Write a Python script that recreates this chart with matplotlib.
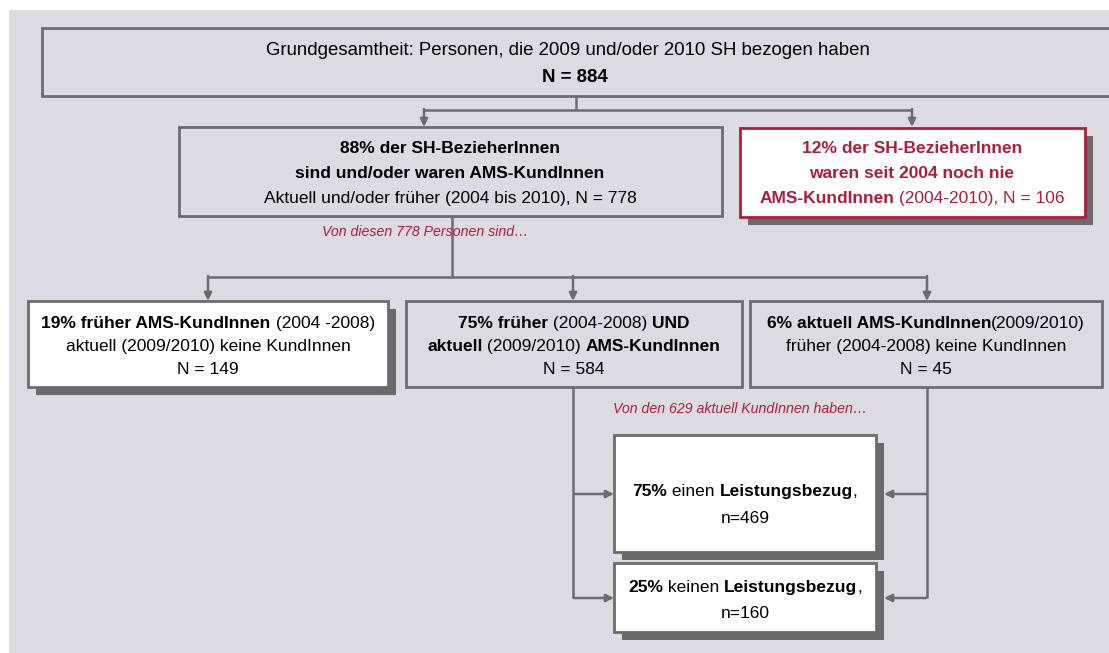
import matplotlib
matplotlib.use("Agg")
import matplotlib.pyplot as plt
from matplotlib.patches import Rectangle

# --- data -------------------------------------------------------------
total_n = 884
ams_share = [88, 12]          # ever AMS client / never AMS client
ams_n = [778, 106]
history_share = [19, 75, 6]   # only earlier / earlier AND now / only now
history_n = [149, 584, 45]
current_n = 629
benefit_share = [75, 25]      # with / without benefit
benefit_n = [469, 160]

# --- style ------------------------------------------------------------
W, H = 1109, 653
BG = "#dcdbe1"
LINE = "#6c6c70"
RED = "#b01c3c"
SHADOW = "#6a6a6a"
FONT = ["Liberation Sans", "DejaVu Sans"]
FS = 12.5

fig = plt.figure(figsize=(W / 100, H / 100), dpi=100)
fig.patch.set_facecolor("white")
ax = fig.add_axes([0, 0, 1, 1])
ax.set_xlim(0, W)
ax.set_ylim(H, 0)
ax.axis("off")
renderer = fig.canvas.get_renderer()

ax.add_patch(Rectangle((9, 10), W, H, facecolor=BG, edgecolor="none", zorder=0))


def box(x0, y0, x1, y1, face=BG, edge=LINE, shadow=False):
    if shadow:
        ax.add_patch(Rectangle((x0 + 8, y0 + 8), x1 - x0, y1 - y0,
                               facecolor=SHADOW, edgecolor="none", zorder=1))
    ax.add_patch(Rectangle((x0, y0), x1 - x0, y1 - y0, facecolor=face,
                           edgecolor=edge, linewidth=2.0, zorder=2))


def width(s, weight, style, fs):
    t = ax.text(0, 0, "|" + s + "|", fontsize=fs, family=FONT, weight=weight, style=style)
    t2 = ax.text(0, 0, "||", fontsize=fs, family=FONT, weight=weight, style=style)
    w = t.get_window_extent(renderer).width - t2.get_window_extent(renderer).width
    t.remove()
    t2.remove()
    return w


def rich(xc, y, segs, color="black", style="normal", fs=FS):
    # segs: list of (text, bold); y is the visual centre of the line
    ws = [width(s, "bold" if b else "normal", style, fs) for s, b in segs]
    x = xc - sum(ws) / 2
    base = y + fs * 100 / 72 * 0.36
    for (s, b), w in zip(segs, ws):
        ax.text(x, base, s, fontsize=fs, family=FONT, weight="bold" if b else "normal",
                style=style, color=color, ha="left", va="baseline", zorder=5)
        x += w


def line(xs, ys):
    ax.plot(xs, ys, color=LINE, lw=1.8, solid_capstyle="butt", zorder=3)


def arrow(x0, y0, x1, y1):
    ax.annotate("", xy=(x1, y1), xytext=(x0, y0), zorder=4,
                arrowprops=dict(arrowstyle="-|>,head_length=0.45,head_width=0.22",
                                color=LINE, lw=1.8, shrinkA=0, shrinkB=0))


# --- top box ----------------------------------------------------------
box(42, 28, 1130, 96)
rich(568, 48, [("Grundgesamtheit: Personen, die 2009 und/oder 2010 SH bezogen haben", False)], fs=13.4)
rich(575, 75, [(f"N = {total_n}", True)], fs=13.4)

line([576, 576], [96, 110])
line([424, 912], [110, 110])
arrow(424, 109, 424, 127)
arrow(912, 109, 912, 127)

# --- second level -----------------------------------------------------
box(179, 127, 722, 216)
rich(450, 147, [(f"{ams_share[0]}% der SH-BezieherInnen", True)])
rich(450, 172, [("sind und/oder waren AMS-KundInnen", True)])
rich(450, 197, [(f"Aktuell und/oder früher (2004 bis 2010), N = {ams_n[0]}", False)])

box(740, 128, 1085, 217, face="white", edge=RED, shadow=True)
rich(912, 147, [(f"{ams_share[1]}% der SH-BezieherInnen", True)], color=RED)
rich(912, 172, [("waren seit 2004 noch nie", True)], color=RED)
rich(912, 197, [("AMS-KundInnen", True), (f" (2004-2010), N = {ams_n[1]}", False)], color=RED)

rich(425, 231, [(f"Von diesen {ams_n[0]} Personen sind…", False)], color=RED, style="italic", fs=10.2)

line([452, 452], [216, 277])
line([208, 927], [277, 277])
arrow(208, 276, 208, 301)
arrow(573, 276, 573, 301)
arrow(927, 276, 927, 301)

# --- third level ------------------------------------------------------
box(28, 301, 388, 387, face="white", shadow=True)
rich(208, 322, [(f"{history_share[0]}% früher AMS-KundInnen", True), (" (2004 -2008)", False)])
rich(208, 345, [("aktuell (2009/2010) keine KundInnen", False)])
rich(208, 368, [(f"N = {history_n[0]}", False)])

box(406, 301, 742, 387)
rich(574, 322, [(f"{history_share[1]}% früher", True), (" (2004-2008) ", False), ("UND", True)])
rich(574, 345, [("aktuell", True), (" (2009/2010) ", False), ("AMS-KundInnen", True)])
rich(574, 368, [(f"N = {history_n[1]}", False)])

box(750, 301, 1102, 387)
rich(926, 322, [(f"{history_share[2]}% aktuell AMS-KundInnen", True), ("(2009/2010)", False)])
rich(926, 345, [("früher (2004-2008) keine KundInnen", False)])
rich(926, 368, [(f"N = {history_n[2]}", False)])

rich(740, 408, [(f"Von den {current_n} aktuell KundInnen haben…", False)], color=RED, style="italic", fs=10.2)

# --- benefit boxes ----------------------------------------------------
line([573, 573], [387, 598])
line([927, 927], [387, 598])
for yy in (494, 598):
    arrow(574, yy, 614, yy)
    arrow(926, yy, 884, yy)

box(614, 435, 876, 552, face="white", shadow=True)
rich(745, 490, [(f"{benefit_share[0]}%", True), (" einen ", False), ("Leistungsbezug", True), (",", False)])
rich(745, 517, [(f"n={benefit_n[0]}", False)])

box(614, 563, 876, 632, face="white", shadow=True)
rich(745, 586, [(f"{benefit_share[1]}%", True), (" keinen ", False), ("Leistungsbezug", True), (",", False)])
rich(745, 612, [(f"n={benefit_n[1]}", False)])

fig.savefig("out.png", dpi=100, facecolor=fig.get_facecolor())
